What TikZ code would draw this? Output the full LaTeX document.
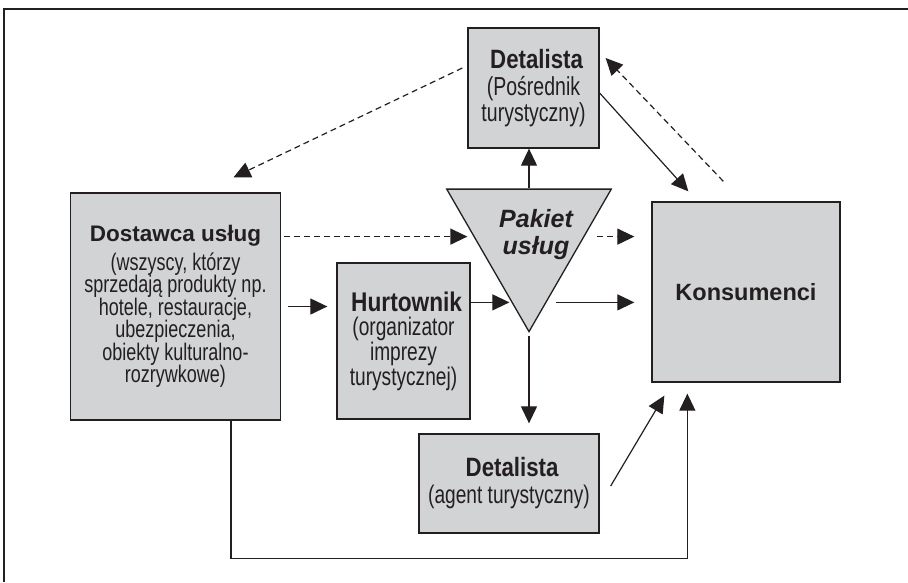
\documentclass[tikz,border=0pt]{standalone}
\usepackage{fontspec}
\setmainfont{Liberation Sans}
\newfontfamily\narrowfont[FakeStretch=0.75]{Liberation Sans}
\newfontfamily\condfont[FakeStretch=0.84]{Liberation Sans}
\usetikzlibrary{arrows.meta,shapes.geometric,calc}
\definecolor{boxgray}{RGB}{209,211,212}
\definecolor{inkdark}{RGB}{35,31,32}
% body text (narrow) and headings: size, leading
\newcommand{\bodyfont}[2]{\narrowfont\fontsize{#1}{#2}\selectfont}
\newcommand{\headfont}[1]{\condfont\bfseries\fontsize{#1}{21.7}\selectfont}
\newcommand{\bigheadfont}{\rmfamily\bfseries\fontsize{22.5}{21.7}\selectfont}

\begin{document}
\begin{tikzpicture}[x=1pt, y=-1pt,
        box/.style={rectangle, draw=inkdark, fill=boxgray, line width=1.3pt, align=center, inner sep=0pt, text=inkdark},
        tri/.style={regular polygon, regular polygon sides=3, shape border rotate=180, draw=inkdark, fill=boxgray, line width=1.3pt, minimum size=190pt, inner sep=0pt},
        arr/.style={-{Triangle[length=17pt,width=16pt]}, line width=1.2pt, draw=inkdark},
        dasharr/.style={arr, dash pattern=on 6pt off 4pt}
    ]
    \useasboundingbox (0,0) rectangle (908,582);
    \draw[line width=1.4pt, inkdark] (4,582) -- (4,9) -- (908,9);

    \node[box, minimum width=131pt, minimum height=120pt, font=\bodyfont{26}{22}] (det1) at (533.5,88) {{\headfont{26.5} Detalista}\\[5pt](Pośrednik\\turystyczny)};
    \node[box, minimum width=210pt, minimum height=227pt, font=\bodyfont{24}{22.5}] (dost) at (175.5,306.5) {{\bigheadfont Dostawca usług}\\[6pt](wszyscy, którzy\\sprzedają produkty np.\\hotele, restauracje,\\ubezpieczenia,\\obiekty kulturalno-\\rozrywkowe)};
    \node[box, minimum width=133pt, minimum height=156pt, font=\bodyfont{25.5}{21.5}] (hurt) at (403.5,341) {{\headfont{27} Hurtownik}\\[3pt](organizator\\imprezy\\turystycznej)};
    \node[box, minimum width=180pt, minimum height=99pt, font=\bodyfont{25.5}{22}] (det2) at (509,483.5) {{\headfont{26.5} Detalista}\\[5pt](agent turystyczny)};
    \node[box, minimum width=188pt, minimum height=180pt, font=\rmfamily\bfseries\fontsize{23.5}{26}\selectfont] (kons) at (746,292) {Konsumenci};
    \node[tri] (pakiet) at (529,236.6) {};
    \node[align=center, text=inkdark, font=\rmfamily\bfseries\itshape\fontsize{25}{27}\selectfont] (pakiet-txt) at (536,235) {Pakiet\\usług};

    \draw[arr, shorten <=7pt, shorten >=9pt] (dost.east) -- (dost.east -| hurt.west);
    \draw[dasharr, shorten <=3pt, shorten >=6pt] (dost.east |- pakiet.west) -- (pakiet.west);
    \draw[dasharr, shorten <=12pt, shorten >=17pt] (pakiet.east) -- (pakiet.east -| kons.west);
    \draw[arr, shorten >=2pt] (hurt.east |- pakiet.255) -- (pakiet.255);
    \draw[arr, shorten <=9pt, shorten >=17pt] (pakiet.285) -- (pakiet.285 -| kons.west);
    \draw[arr] (pakiet.north) -- (pakiet.north |- det1.south);
    \draw[arr, shorten <=3pt, shorten >=10pt] (pakiet.south) -- (pakiet.south |- det2.north);
    \draw[arr] ([yshift=-5pt]det1.east) -- ([xshift=37pt,yshift=10pt]kons.north west);
    \draw[dasharr] ([xshift=72pt,yshift=20pt]kons.north west) -- ([xshift=6pt,yshift=30pt]det1.east);
    \draw[dasharr] ([xshift=-5pt,yshift=20pt]det1.west) -- ([xshift=58pt,yshift=15pt]dost.north);
    \draw[arr] ([xshift=11pt,yshift=-2.5pt]det2.east) -- ([xshift=13pt,yshift=-13pt]kons.south west);
    \draw[arr] ([xshift=55.5pt]dost.south) -- ++(0,138) -| ([xshift=36pt,yshift=-11pt]kons.south west);
\end{tikzpicture}
\end{document}
